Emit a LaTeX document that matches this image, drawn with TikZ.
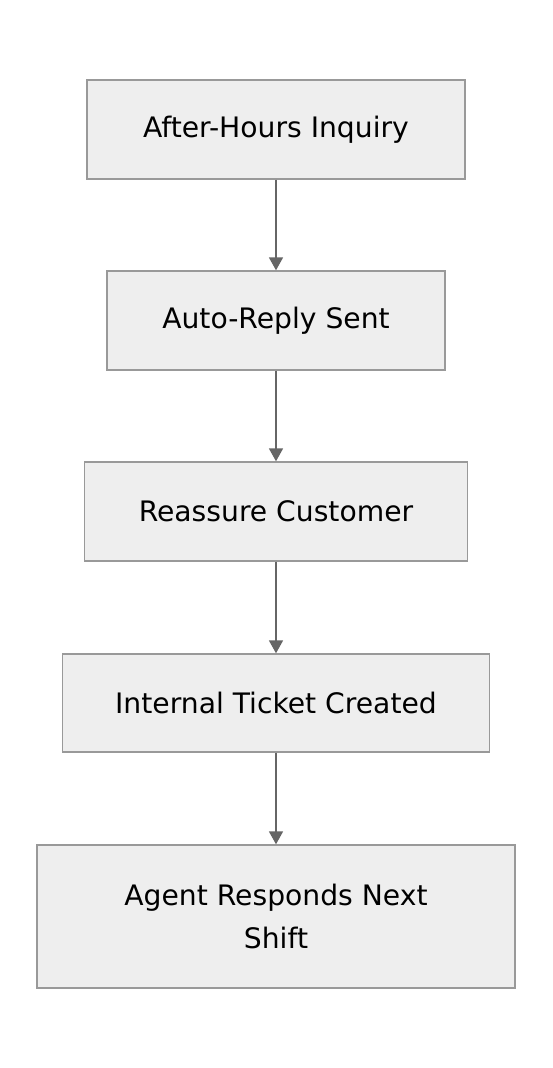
\documentclass[tikz,border=0pt]{standalone}
\usepackage{fontspec}
\setmainfont{DejaVu Sans}
\usetikzlibrary{arrows.meta}
\definecolor{boxfill}{HTML}{EEEEEE}
\definecolor{boxline}{HTML}{999999}
\definecolor{arrowgray}{HTML}{666666}
\tikzset{
  stepbox/.style={draw=boxline,fill=boxfill,line width=1.4pt,inner sep=0pt,
    align=center,font=\fontsize{28.2}{43}\selectfont},
  flow/.style={-{Triangle[length=13pt,width=14pt]},arrowgray,line width=1.8pt}
}
\begin{document}
\begin{tikzpicture}[x=1pt,y=-1pt]
  \useasboundingbox (0,0) rectangle (552,1068);

  \node[stepbox,minimum width=378pt,minimum height=99pt] (inquiry) at (276,129.5) {After-Hours Inquiry};
  \node[stepbox,minimum width=338pt,minimum height=99pt] (autoreply) at (276,320.5) {Auto-Reply Sent};
  \node[stepbox,minimum width=383pt,minimum height=99pt] (reassure) at (276,511.5) {Reassure Customer};
  \node[stepbox,minimum width=427pt,minimum height=98pt] (ticket) at (276,703) {Internal Ticket Created};
  \node[stepbox,minimum width=478pt,minimum height=143pt] (agent) at (276,916.5) {Agent Responds Next\\Shift};

  \draw[flow] (inquiry) -- (autoreply);
  \draw[flow] (autoreply) -- (reassure);
  \draw[flow] (reassure) -- (ticket);
  \draw[flow] (ticket) -- (agent);
\end{tikzpicture}
\end{document}
